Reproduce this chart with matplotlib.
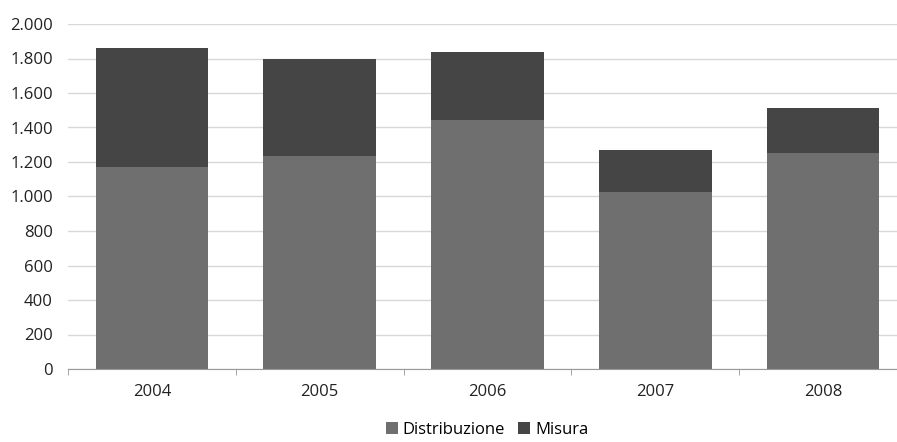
import numpy as np
import matplotlib.pyplot as plt
from matplotlib.ticker import FuncFormatter, FixedLocator

# data
anni = ["2004", "2005", "2006", "2007", "2008"]
distribuzione = [1173, 1237, 1443, 1024, 1254]
misura = [690, 558, 393, 248, 261]

plt.rcParams['font.family'] = ['Open Sans', 'DejaVu Sans']

fig = plt.figure(figsize=(8.97, 4.42), dpi=100)
ax = fig.add_axes([68/897, 73/442, 839/897, 345/442])

x = np.arange(len(anni))
ax.bar(x, distribuzione, width=0.67, color='#6f6f6f', label='Distribuzione', zorder=2)
ax.bar(x, misura, width=0.67, bottom=distribuzione, color='#454545', label='Misura', zorder=2)

ax.set_xlim(-0.5, 4.5)
ax.set_ylim(0, 2000)
ax.set_yticks(range(0, 2001, 200))
ax.yaxis.set_major_formatter(FuncFormatter(lambda v, p: f"{int(v):,}".replace(",", ".")))
ax.grid(axis='y', color='#d8d8d8', linewidth=1, zorder=0)

ax.set_xticks(x)
ax.set_xticklabels(anni)
ax.xaxis.set_minor_locator(FixedLocator(np.arange(-0.5, 5, 1)))
ax.tick_params(axis='x', which='major', length=0, pad=11, labelsize=12, colors='#222222')
ax.tick_params(axis='x', which='minor', length=4, color='#999999')
ax.tick_params(axis='y', length=0, pad=11, labelsize=12, colors='#222222')

for s in ['top', 'right', 'left']:
    ax.spines[s].set_visible(False)
ax.spines['bottom'].set_color('#999999')

ax.legend(loc='center', bbox_to_anchor=(419/839, -61/345), ncol=2, frameon=False,
          fontsize=12, handlelength=0.7, handleheight=0.7, handletextpad=0.3, columnspacing=0.8)

fig.savefig('out.png')
